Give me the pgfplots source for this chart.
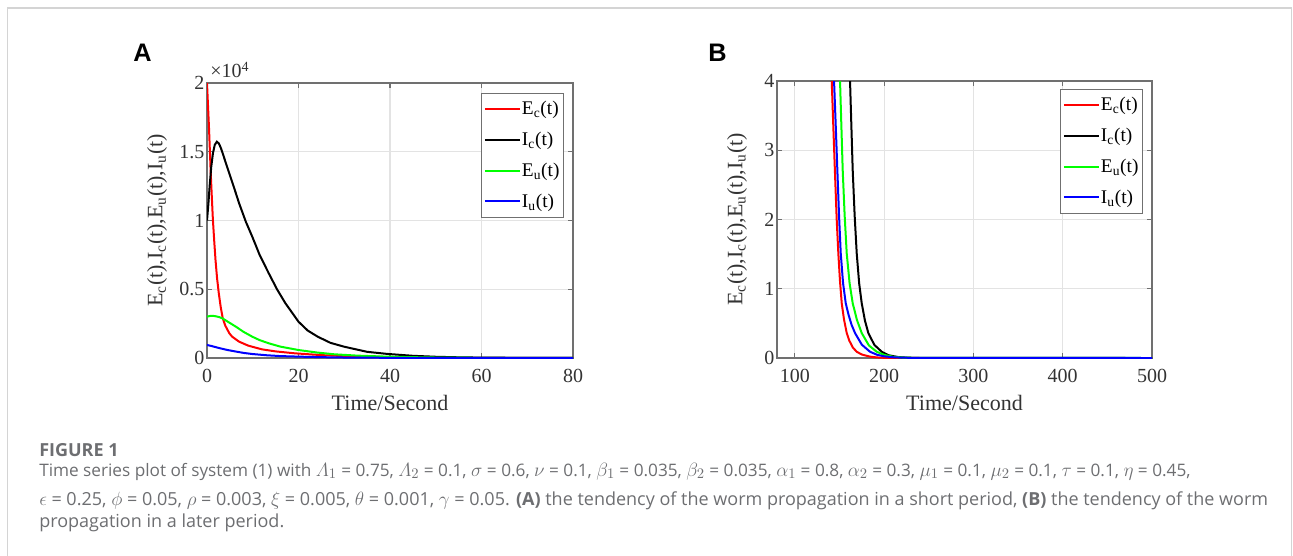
\documentclass[border=0pt]{standalone}
\usepackage{amsmath}
\usepackage{fontspec}
\setmainfont{Liberation Serif}
\newfontfamily\capfont{Open Sans}
\newfontfamily\panelfont{Liberation Sans}
\usepackage{pgfplots}
\pgfplotsset{compat=1.18}
\definecolor{framegray}{HTML}{707070}
\definecolor{gridgray}{HTML}{E3E3E3}
\definecolor{ticktext}{HTML}{333333}
\definecolor{capgray}{HTML}{6D6E71}
\definecolor{boxgray}{HTML}{D4D4D4}
\definecolor{mgreen}{HTML}{00FF00}
\pgfplotsset{matstyle/.style={
  scale only axis,
  axis line style={framegray, line width=1.1pt},
  tick style={framegray, line width=0.8pt},
  major tick length=3.5pt,
  grid=major,
  major grid style={gridgray, line width=0.8pt},
  tick label style={font=\fontsize{15}{18}\selectfont, text=ticktext},
  xticklabel style={yshift=-4.5pt},
  yticklabel style={xshift=1.5pt},
  label style={font=\fontsize{16.5}{20}\selectfont, text=ticktext},
  legend style={draw=framegray, line width=0.8pt, fill=white,
    font=\fontsize{14.5}{17}\selectfont, text=black,
    inner xsep=2pt, inner ysep=5pt, row sep=9.5pt,
    nodes={inner sep=1pt, anchor=west},
    anchor=north east, at={(1,1)}},
  legend cell align=left,
  legend image code/.code={\draw[##1, line width=1.5pt] (0pt,0pt) -- (26pt,0pt);},
  every axis plot/.append style={line width=1.5pt},
}}
\newcommand{\ylab}{E\textsubscript{c}(t),I\textsubscript{c}(t),E\textsubscript{u}(t),I\textsubscript{u}(t)}
\newcommand{\g}[1]{{\fontsize{15}{15}\selectfont$#1$}}
\begin{document}
\begin{tikzpicture}
\begin{scope}[x=0.75pt,y=-0.75pt]
\path[use as bounding box] (0,0) rectangle (1293,556);
\draw[boxgray, line width=1.1pt] (7.3,560) -- (7.3,8) -- (1291.5,8) -- (1291.5,560);
\node[anchor=base west, inner sep=0pt, font=\panelfont\bfseries\fontsize{19}{22}\selectfont] at (133,62) {A};
\node[anchor=base west, inner sep=0pt, font=\panelfont\bfseries\fontsize{19}{22}\selectfont] at (708,62) {B};
\node[anchor=base west, inner sep=0pt, text=ticktext, font=\fontsize{15}{18}\selectfont] at (210,78) {×10\textsuperscript{4}};
\begin{scope}[every node/.style={anchor=base west, inner sep=0pt, text=capgray, font=\capfont\fontsize{13}{15}\selectfont}]
\node at (39,456) {\fontsize{13.5}{15}\selectfont\bfseries FIGURE 1};
\node at (39,476) {\fontsize{12.9}{15}\selectfont Time series plot of system (1) with \g{\varLambda_1} = 0.75, \g{\varLambda_2} = 0.1, \g{\sigma} = 0.6, \g{\nu} = 0.1, \g{\beta_1} = 0.035, \g{\beta_2} = 0.035, \g{\alpha_1} = 0.8, \g{\alpha_2} = 0.3, \g{\mu_1} = 0.1, \g{\mu_2} = 0.1, \g{\tau} = 0.1, \g{\eta} = 0.45,};
\node at (39,505) {\fontsize{13.5}{15}\selectfont\g{\epsilon} = 0.25, \g{\phi} = 0.05, \g{\rho} = 0.003, \g{\xi} = 0.005, \g{\theta} = 0.001, \g{\gamma} = 0.05. {\bfseries (A)} the tendency of the worm propagation in a short period, {\bfseries (B)} the tendency of the worm};
\node at (39,527) {\fontsize{13.5}{15}\selectfont propagation in a later period.};
\end{scope}
\end{scope}

% Panel A (values in units of 10^4)
\begin{axis}[matstyle, at={(155.25pt,-268.5pt)}, anchor=south west,
  width=274.5pt, height=206.25pt,
  xmin=0, xmax=80, ymin=0, ymax=2,
  xtick={0,20,40,60,80}, xticklabels={0,20,40,60,80},
  ytick={0,0.5,1,1.5,2}, yticklabels={0,0.5,1,1.5,2},
  xlabel={Time/Second}, ylabel={\ylab},
  xlabel style={at={(axis description cs:0.5,-0.1927)}, anchor=base},
  ylabel style={at={(axis description cs:-0.1366,0.5)}, anchor=center},
  legend style={xshift=-6.75pt, yshift=-7.5pt}]
\addplot[red] coordinates {(0,2.0) (0.2,1.85) (0.43,1.68) (0.79,1.367) (1.0,1.21) (1.29,1.004) (1.6,0.84) (1.86,0.713) (2.2,0.58) (2.58,0.47) (3.0,0.37) (3.44,0.289) (4.0,0.235) (4.88,0.18) (5.5,0.155) (7.0,0.119) (9,0.09) (12,0.063) (15,0.048) (19.2,0.034) (25,0.021) (30,0.014) (35,0.009) (40,0.006) (50,0.0025) (60,0.001) (70,0.0004) (80,0.0002)};
\addlegendentry{E\textsubscript{c}(t)}
\addplot[black] coordinates {(0,1.0) (0.3,1.12) (0.6,1.26) (0.93,1.39) (1.3,1.49) (1.7,1.55) (2.15,1.573) (2.6,1.56) (3.0,1.53) (3.44,1.488) (4.0,1.43) (4.87,1.343) (6.0,1.23) (7.0,1.127) (8.5,0.99) (9.9,0.882) (11.5,0.75) (13.5,0.616) (15.3,0.5) (17.1,0.40) (20,0.264) (22,0.20) (24.2,0.155) (27,0.11) (30,0.082) (35,0.045) (39.3,0.03) (45,0.016) (50,0.009) (55,0.005) (60,0.0028) (70,0.0009) (80,0.0003)};
\addlegendentry{I\textsubscript{c}(t)}
\addplot[mgreen] coordinates {(0,0.30) (0.5,0.305) (1.2,0.307) (2.0,0.303) (2.7,0.297) (3.4,0.288) (4.5,0.265) (6.3,0.228) (8,0.19) (9.9,0.155) (11.5,0.13) (13.5,0.107) (16,0.083) (20,0.058) (24,0.04) (27.8,0.027) (33,0.017) (39.3,0.010) (45,0.006) (50,0.0035) (60,0.0013) (70,0.0005) (80,0.0002)};
\addlegendentry{E\textsubscript{u}(t)}
\addplot[blue] coordinates {(0,0.095) (1,0.087) (2.7,0.072) (4.5,0.058) (6.3,0.047) (8,0.037) (9.9,0.029) (13,0.02) (16,0.014) (20,0.01) (25,0.006) (30,0.0035) (40,0.0013) (50,0.0005) (60,0.0002) (80,0.0)};
\addlegendentry{I\textsubscript{u}(t)}
\end{axis}

% Panel B
\begin{axis}[matstyle, at={(582.75pt,-268.5pt)}, anchor=south west,
  width=281.25pt, height=207.75pt,
  xmin=80, xmax=500, ymin=0, ymax=4,
  xtick={100,200,300,400,500}, xticklabels={100,200,300,400,500},
  ytick={0,1,2,3,4}, yticklabels={0,1,2,3,4},
  xlabel={Time/Second}, ylabel={\ylab},
  xlabel style={at={(axis description cs:0.5,-0.1913)}, anchor=base},
  ylabel style={at={(axis description cs:-0.1067,0.5)}, anchor=center},
  legend style={xshift=-6.75pt, yshift=-6pt}]
\addplot[red] coordinates {(139,4.85) (141.3,4.0) (143,3.37) (145,2.65) (146.9,1.99) (148.7,1.51) (150.5,1.12) (152.5,0.79) (155,0.56) (158.1,0.36) (161,0.25) (165,0.15) (169.3,0.09) (175,0.05) (184,0.02) (192,0.008) (200,0.003) (215,0.001) (240,0.0) (500,0.0)};
\addlegendentry{E\textsubscript{c}(t)}
\addplot[black] coordinates {(159,5.1) (161.8,4.0) (163.3,3.35) (164.8,2.71) (167,2.05) (169.3,1.51) (172,1.08) (174.9,0.79) (178.5,0.54) (182.3,0.36) (189,0.19) (197.3,0.09) (205,0.04) (215,0.015) (225,0.005) (240,0.001) (260,0.0002) (500,0.0)};
\addlegendentry{I\textsubscript{c}(t)}
\addplot[mgreen] coordinates {(148,4.95) (150.6,4.0) (152.1,3.35) (153.6,2.71) (155.8,2.05) (158.1,1.51) (161.3,1.08) (164.8,0.79) (169.5,0.55) (174.9,0.36) (183,0.18) (191.7,0.09) (200,0.045) (210,0.018) (220,0.007) (235,0.002) (250,0.0005) (500,0.0)};
\addlegendentry{E\textsubscript{u}(t)}
\addplot[blue] coordinates {(141.5,4.85) (143.9,4.0) (145.8,3.35) (147.6,2.71) (149.5,2.05) (151.4,1.51) (154,1.08) (157.0,0.79) (160,0.63) (163.5,0.48) (167.4,0.36) (175,0.192) (184.2,0.09) (192,0.047) (200,0.024) (210,0.011) (220,0.005) (235,0.0015) (250,0.0005) (500,0.0)};
\addlegendentry{I\textsubscript{u}(t)}
\end{axis}
\end{tikzpicture}
\end{document}
